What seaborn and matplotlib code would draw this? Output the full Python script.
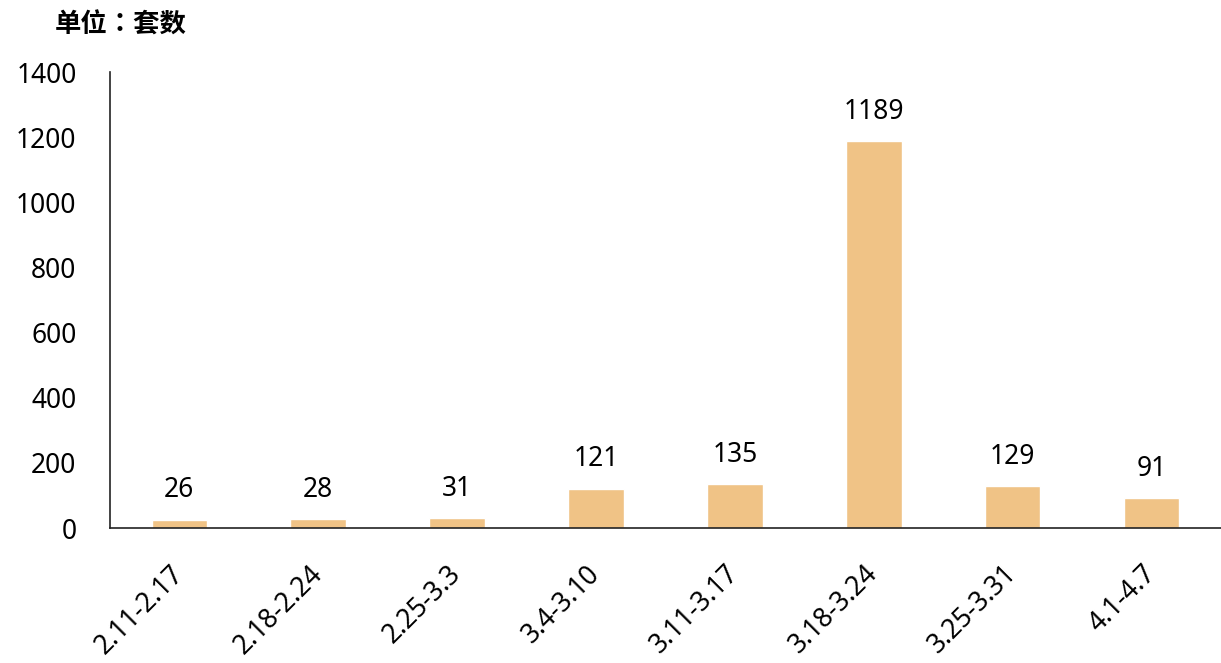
import numpy as np
import pandas as pd
import matplotlib
matplotlib.use("Agg")
import matplotlib.pyplot as plt
import seaborn as sns

periods = ["2.11-2.17", "2.18-2.24", "2.25-3.3", "3.4-3.10",
           "3.11-3.17", "3.18-3.24", "3.25-3.31", "4.1-4.7"]
units = [26, 28, 31, 121, 135, 1189, 129, 91]
yticks = [0, 200, 400, 600, 800, 1000, 1200, 1400]

df = pd.DataFrame({"period": periods, "units": units})

sns.set_style("white")
plt.rcParams['font.family'] = ['Noto Sans', 'Noto Sans CJK SC', 'DejaVu Sans']

fig = plt.figure(figsize=(12.21, 6.63), dpi=100)
ax = fig.add_axes([0.090, 0.2036, 0.91, 0.6878])

sns.barplot(data=df, x="period", y="units", color="#F0C386", width=0.4,
            saturation=1, ax=ax)

# value labels above bars
for i, v in enumerate(units):
    ax.annotate(str(v), (i, v), xytext=(0, 16), textcoords="offset points",
                ha="center", va="baseline", fontsize=19, color="#000000")

ax.set_xlim(-0.5, 7.5)
ax.set_ylim(0, 1400)
ax.set_yticks(yticks)
ax.set_xlabel("")
ax.set_ylabel("")

for s in ["top", "right"]:
    ax.spines[s].set_visible(False)
for s in ["left", "bottom"]:
    ax.spines[s].set_color("#222222")
    ax.spines[s].set_linewidth(1.2)

ax.tick_params(axis="y", direction="in", length=5, width=1.2, color="#222222",
               labelsize=19, pad=24, labelcolor="#000000")
ax.tick_params(axis="x", length=0, labelsize=19, pad=30, labelcolor="#000000")
for lbl in ax.get_xticklabels():
    lbl.set_rotation(45)
    lbl.set_ha("right")
    lbl.set_va("center")
    lbl.set_rotation_mode("anchor")

fig.text(55 / 1221, 1 - 25 / 663, "单位：套数", fontsize=19, fontweight="bold",
         ha="left", va="center", color="#000000",
         family=['Noto Sans CJK TC', 'DejaVu Sans'])

fig.savefig("out.png", dpi=100)
